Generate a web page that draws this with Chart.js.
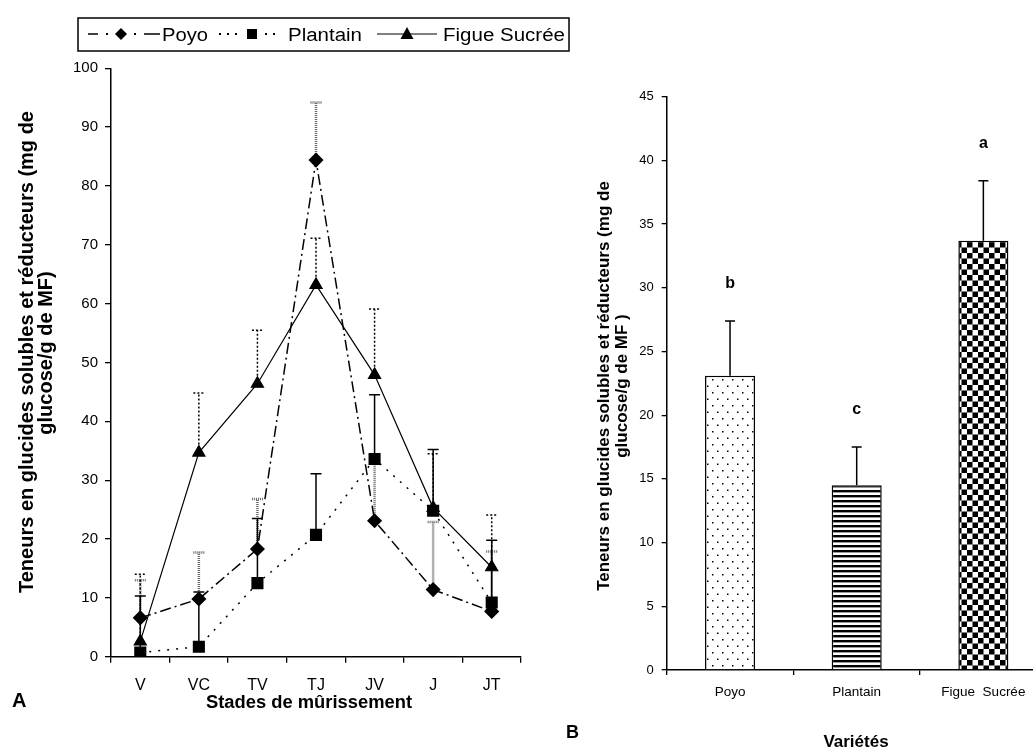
<!DOCTYPE html>
<html><head><meta charset="utf-8">
<script src="https://cdn.jsdelivr.net/npm/chart.js@4.4.0/dist/chart.umd.min.js"></script>
<style>
html,body{margin:0;padding:0;width:1033px;height:751px;overflow:hidden;background:#fff;}
#c1{position:absolute;left:0;top:0;}
#c2{position:absolute;left:560px;top:0;}
#ov{position:absolute;left:0;top:0;pointer-events:none;}
svg text{font-family:'Liberation Sans',Arial,sans-serif;fill:#000;}
</style></head><body>
<canvas id="c1" width="560" height="720"></canvas>
<canvas id="c2" width="500" height="751"></canvas>
<svg id="ov" width="1033" height="751">
  <!-- legend -->
  <rect x="78" y="18" width="491" height="33" fill="none" stroke="#000" stroke-width="1.5"/>
  <line x1="88" y1="34" x2="98" y2="34" stroke="#000" stroke-width="1.5"/>
  <rect x="106" y="33" width="2" height="2" fill="#000"/>
  <polygon points="121,28 127,34 121,40 115,34" fill="#000"/>
  <rect x="134" y="33" width="2" height="2" fill="#000"/>
  <line x1="144" y1="34" x2="160" y2="34" stroke="#000" stroke-width="1.5"/>
  <text x="162" y="40.5" font-size="18" textLength="46" lengthAdjust="spacingAndGlyphs">Poyo</text>
  <rect x="219" y="33" width="2" height="2" fill="#000"/>
  <rect x="227" y="33" width="2" height="2" fill="#000"/>
  <rect x="235" y="33" width="2" height="2" fill="#000"/>
  <rect x="247" y="29" width="10" height="10" fill="#000"/>
  <rect x="265" y="33" width="2" height="2" fill="#000"/>
  <rect x="273" y="33" width="2" height="2" fill="#000"/>
  <text x="288" y="40.5" font-size="18" textLength="74" lengthAdjust="spacingAndGlyphs">Plantain</text>
  <line x1="377" y1="34" x2="437" y2="34" stroke="#000" stroke-width="1.2"/>
  <polygon points="407,27 413.5,39 400.5,39" fill="#000"/>
  <text x="443" y="40.5" font-size="18" textLength="122" lengthAdjust="spacingAndGlyphs">Figue Sucrée</text>
  <!-- left titles -->
  <text transform="translate(33,352) rotate(-90)" text-anchor="middle" font-size="20" font-weight="bold">Teneurs en glucides solubles et réducteurs (mg de</text>
  <text transform="translate(52,353) rotate(-90)" text-anchor="middle" font-size="20" font-weight="bold">glucose/g de MF)</text>
  <text x="309" y="708" text-anchor="middle" font-size="18" font-weight="bold" textLength="206" lengthAdjust="spacingAndGlyphs">Stades de mûrissement</text>
  <text x="12" y="707" font-size="20" font-weight="bold">A</text>
  <!-- right titles -->
  <text transform="translate(609,386) rotate(-90)" text-anchor="middle" font-size="17" font-weight="bold">Teneurs en glucides solubles et réducteurs (mg de</text>
  <text transform="translate(627,386) rotate(-90)" text-anchor="middle" font-size="17" font-weight="bold">glucose/g de MF )</text>
  <text x="856" y="747" text-anchor="middle" font-size="17" font-weight="bold">Variétés</text>
  <text x="566" y="738" font-size="18" font-weight="bold">B</text>
</svg>
<script>
// ---------- data : panel A ----------
const stages = ['V','VC','TV','TJ','JV','J','JT'];
const poyo     = [6.6, 9.8, 18.3, 84.4, 23.1, 11.4, 7.7];
const poyoErr  = [6.4, 7.9, 8.5, 9.8, 10.3, 11.5, 10.2];
const plantain    = [0.7, 1.7, 12.5, 20.7, 33.6, 24.8, 9.2];
const plantainErr = [9.6, 9.3, 11.0, 10.4, 10.9, 10.4, 10.6];
const figue    = [2.6, 34.7, 46.4, 63.2, 47.9, 25.3, 15.2];
const figueErr = [11.4, 10.1, 9.1, 7.9, 11.2, 9.2, 8.9];
const yTicksA = [0,10,20,30,40,50,60,70,80,90,100];

// ---------- data : panel B ----------
const varieties = ['Poyo','Plantain','Figue  Sucrée'];
const meansB = [23.1, 14.5, 33.7];
const errB   = [4.3, 3.0, 4.7];
const lettersB = ['b','c','a'];
const yTicksB = [0,5,10,15,20,25,30,35,40,45];

const FONT = "'Liberation Sans', Arial, sans-serif";
const NARROW = "'Liberation Sans Narrow', 'Liberation Sans', Arial, sans-serif";

const errPlugin = {
  id: 'errbars',
  beforeDatasetsDraw(chart) {
    const ctx = chart.ctx, ys = chart.scales.y;
    chart.data.datasets.forEach((ds, i) => {
      if (!ds.errValues) return;
      const meta = chart.getDatasetMeta(i);
      ctx.save();
      ctx.strokeStyle = ds.errColor; ctx.lineWidth = ds.errWidth; ctx.setLineDash(ds.errDash);
      ds.data.forEach((v, j) => {
        const x = meta.data[j].x;
        const y0 = ys.getPixelForValue(v), y1 = ys.getPixelForValue(v + ds.errValues[j]);
        ctx.beginPath();
        ctx.moveTo(x, y0); ctx.lineTo(x, y1);
        ctx.moveTo(x - 5.5, y1); ctx.lineTo(x + 5.5, y1);
        ctx.stroke();
      });
      ctx.restore();
    });
  }
};

const axisCommon = {
  grid: {display: true, drawOnChartArea: false, drawTicks: true, tickLength: 6, color: '#000', lineWidth: 1.3},
  border: {display: true, color: '#000', width: 1.5}
};

new Chart(document.getElementById('c1'), {
  type: 'line',
  data: {
    labels: stages,
    datasets: [
      {label: 'Poyo', data: poyo, errValues: poyoErr, errColor: '#666', errWidth: 2.5, errDash: [1, 1],
       borderColor: '#000', borderWidth: 1.5, borderDash: [11, 4, 2, 4], pointStyle: 'rectRot', pointRadius: 6.5,
       pointBackgroundColor: '#000', pointBorderColor: '#000', tension: 0, fill: false},
      {label: 'Plantain', data: plantain, errValues: plantainErr, errColor: '#000', errWidth: 1.5, errDash: [],
       borderColor: '#000', borderWidth: 1.5, borderDash: [2, 7], pointStyle: 'rect', pointRadius: 7.5,
       pointBackgroundColor: '#000', pointBorderColor: '#000', tension: 0, fill: false},
      {label: 'Figue Sucrée', data: figue, errValues: figueErr, errColor: '#000', errWidth: 1.5, errDash: [2, 2],
       borderColor: '#000', borderWidth: 1.2, pointStyle: 'triangle', pointRadius: 7,
       pointBackgroundColor: '#000', pointBorderColor: '#000', tension: 0, fill: false}
    ]
  },
  options: {
    responsive: false, animation: false, devicePixelRatio: 1,
    layout: {padding: {left: 0, right: 39, top: 68.3, bottom: 0}},
    plugins: {legend: {display: false}, tooltip: {enabled: false}},
    scales: {
      x: {type: 'category', offset: true,
          grid: Object.assign({}, axisCommon.grid, {offset: true}), border: axisCommon.border,
          ticks: {color: '#000', font: {family: FONT, size: 16}, padding: 13, maxRotation: 0, autoSkip: false},
          afterFit(s) { s.height = 63.3; }},
      y: {min: 0, max: 100,
          grid: axisCommon.grid, border: axisCommon.border,
          ticks: {color: '#000', font: {family: FONT, size: 15}, padding: 7, autoSkip: false},
          afterBuildTicks(s) { s.ticks = yTicksA.map(v => ({value: v})); },
          afterFit(s) { s.width = 111; }}
    }
  },
  plugins: [errPlugin]
});

// ---------- panel B ----------
function makePattern(w, h, draw) {
  const c = document.createElement('canvas'); c.width = w; c.height = h;
  const g = c.getContext('2d');
  g.fillStyle = '#fff'; g.fillRect(0, 0, w, h);
  g.fillStyle = '#000'; draw(g);
  return g.createPattern(c, 'repeat');
}
const dots = makePattern(10, 13, g => { g.fillRect(2, 2, 1.5, 1.5); g.fillRect(7, 8.5, 1.5, 1.5); });
const stripes = makePattern(8, 5, g => { g.fillRect(0, 0, 8, 2.4); });
const checker = makePattern(11, 11, g => { g.fillRect(0, 0, 5.5, 5.5); g.fillRect(5.5, 5.5, 5.5, 5.5); });

const barExtras = {
  id: 'barExtras',
  afterDatasetsDraw(chart) {
    const ctx = chart.ctx, ys = chart.scales.y;
    const meta = chart.getDatasetMeta(0);
    const ds = chart.data.datasets[0];
    ctx.save();
    ctx.strokeStyle = '#000'; ctx.lineWidth = 1.5;
    ds.data.forEach((v, j) => {
      const x = meta.data[j].x;
      const y0 = ys.getPixelForValue(v), y1 = ys.getPixelForValue(v + errB[j]);
      ctx.beginPath(); ctx.moveTo(x, y0); ctx.lineTo(x, y1);
      ctx.moveTo(x - 5, y1); ctx.lineTo(x + 5, y1); ctx.stroke();
      ctx.fillStyle = '#000'; ctx.font = 'bold 16px ' + FONT;
      ctx.textAlign = 'center'; ctx.textBaseline = 'middle';
      ctx.fillText(lettersB[j], x, y1 - 37);
    });
    ctx.restore();
  }
};

new Chart(document.getElementById('c2'), {
  type: 'bar',
  data: {
    labels: varieties,
    datasets: [{data: meansB, backgroundColor: [dots, stripes, checker], borderColor: '#000', borderWidth: 1.5,
                borderSkipped: 'bottom', barPercentage: 0.395, categoryPercentage: 1}]
  },
  options: {
    responsive: false, animation: false, devicePixelRatio: 1,
    layout: {padding: {left: 0, right: 13.3, top: 96.7, bottom: 0}},
    plugins: {legend: {display: false}, tooltip: {enabled: false}},
    scales: {
      x: {grid: Object.assign({}, axisCommon.grid, {offset: true, tickLength: 5}), border: axisCommon.border,
          ticks: {color: '#000', font: {family: FONT, size: 13.5}, padding: 9, maxRotation: 0, autoSkip: false},
          afterFit(s) { s.height = 81; }},
      y: {min: 0, max: 45,
          grid: Object.assign({}, axisCommon.grid, {tickLength: 5}), border: axisCommon.border,
          ticks: {color: '#000', font: {family: NARROW, size: 13}, padding: 8, autoSkip: false},
          afterBuildTicks(s) { s.ticks = yTicksB.map(v => ({value: v})); },
          afterFit(s) { s.width = 106.7; }}
    }
  },
  plugins: [barExtras]
});
</script>
</body></html>
